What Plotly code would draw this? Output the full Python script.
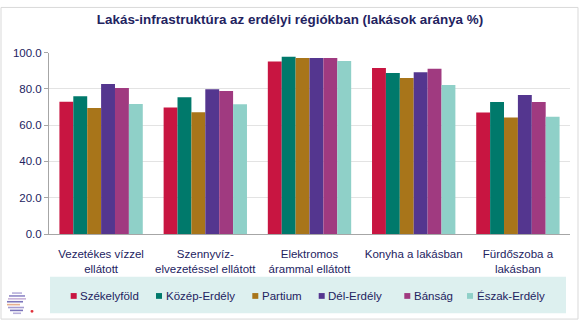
import plotly.graph_objects as go

# ---- data ----
categories = ["Vezetékes vízzel<br>ellátott", "Szennyvíz-<br>elvezetéssel ellátott",
              "Elektromos<br>árammal ellátott", "Konyha a lakásban", "Fürdőszoba a<br>lakásban"]
series_names = ["Székelyföld", "Közép-Erdély", "Partium", "Dél-Erdély", "Bánság", "Észak-Erdély"]
szekelyfold = [72.9, 69.7, 95.0, 91.5, 66.9]
kozep_erdely = [75.9, 75.4, 97.7, 88.7, 72.7]
partium = [69.4, 67.1, 97.0, 86.0, 64.2]
del_erdely = [82.7, 79.8, 97.0, 89.2, 76.6]
bansag = [80.5, 78.8, 97.0, 91.0, 72.7]
eszak_erdely = [71.7, 71.5, 95.4, 82.1, 64.6]
series_values = [szekelyfold, kozep_erdely, partium, del_erdely, bansag, eszak_erdely]
y_ticks = [0, 20, 40, 60, 80, 100]

# ---- styling ----
colors = ["#C81541", "#00796B", "#A8751A", "#54368F", "#A03A80", "#8FD0C8"]
W, H = 580, 327
FONT = "Liberation Sans, Arial, sans-serif"
NAVY = "#23235F"

def px(x):
    return x / W

def py(y):
    return 1 - y / H

fig = go.Figure()
for name, vals, col in zip(series_names, series_values, colors):
    fig.add_trace(go.Bar(x=categories, y=vals, name=name, marker_color=col,
                         marker_line_width=0))

shapes = []
annotations = []

# outer chart border
shapes.append(dict(type="rect", xref="paper", yref="paper",
                   x0=px(1), x1=px(578), y0=py(325), y1=py(1.5),
                   line=dict(color="#D9D9D9", width=1), layer="below"))
# legend box
shapes.append(dict(type="rect", xref="paper", yref="paper",
                   x0=px(50), x1=px(566), y0=py(319), y1=py(281),
                   fillcolor="#DDF0EF", line=dict(width=0), layer="below"))

legend_sq_x = [70.7, 156.0, 252.3, 318.7, 404.3, 467.0]
for name, col, sx in zip(series_names, colors, legend_sq_x):
    shapes.append(dict(type="rect", xref="paper", yref="paper",
                       x0=px(sx), x1=px(sx + 6), y0=py(304), y1=py(298),
                       fillcolor=col, line=dict(width=0)))
    annotations.append(dict(text=name, xref="paper", yref="paper",
                            x=px(sx + 7.5), y=py(301), xanchor="left", yanchor="middle",
                            showarrow=False, font=dict(family=FONT, size=11.5, color=NAVY)))

# small logo (decorative stripes)
logo_lines = [(298, 12, 22, "#B7AFDA"), (301, 9, 25, "#8E86C6"), (304, 8, 26, "#C9B3D9"),
              (307, 7, 23, "#7B74BA"), (310, 7, 20, "#E7B08F"), (313, 8, 24, "#A59CD2"),
              (316, 10, 23, "#7B74BA"), (319, 13, 21, "#B7AFDA")]
for yy, xa, xb, c in logo_lines:
    shapes.append(dict(type="line", xref="paper", yref="paper",
                       x0=px(xa), x1=px(xb), y0=py(yy), y1=py(yy),
                       line=dict(color=c, width=1.6)))
shapes.append(dict(type="circle", xref="paper", yref="paper",
                   x0=px(30.5), x1=px(33.5), y0=py(318.5), y1=py(315.5),
                   fillcolor="#E0303A", line=dict(width=0)))

fig.update_layout(
    width=W, height=H,
    margin=dict(l=0, r=0, t=0, b=0),
    paper_bgcolor="white", plot_bgcolor="white",
    showlegend=False,
    barmode="group", bargap=0.2, bargroupgap=0,
    title=dict(text="<b>Lakás-infrastruktúra az erdélyi régiókban (lakások aránya %)</b>",
               x=0.5, xanchor="center", y=py(19), yanchor="middle",
               font=dict(family=FONT, size=13.4, color=NAVY)),
    xaxis=dict(domain=[px(49), px(570)], showline=True, linecolor="#A6A6A6", linewidth=1,
               ticks="", showgrid=False, ticklabelstandoff=9,
               tickfont=dict(family=FONT, size=11.5, color=NAVY)),
    yaxis=dict(domain=[py(236.7), py(48.3)], range=[0, 100], tickvals=y_ticks,
               tickformat=".1f", showline=True, linecolor="#A6A6A6", linewidth=1,
               ticks="outside", ticklen=4, tickcolor="#A6A6A6",
               gridcolor="#E3E3E3", gridwidth=1, zeroline=False,
               tickfont=dict(family=FONT, size=11.5, color=NAVY)),
    shapes=shapes, annotations=annotations,
)

fig.write_html("out.html")
